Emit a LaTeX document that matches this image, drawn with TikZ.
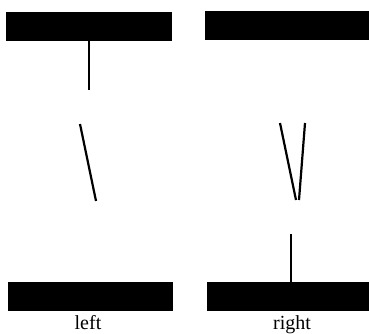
\documentclass[tikz,border=0pt]{standalone}
\usepackage{fontspec}
\setmainfont{Liberation Serif}
\begin{document}
\begin{tikzpicture}[x=1pt,y=-1pt,
  bar/.style={fill=black},
  stick/.style={line width=2.2pt,line cap=butt},
  lbl/.style={font=\fontsize{20}{22}\selectfont,anchor=base,inner sep=0pt}]
\useasboundingbox (0,0) rectangle (369,334);
% top bars
\fill[bar] (6,12) rectangle (172,41);
\fill[bar] (205,11) rectangle (369,40);
% bottom bars
\fill[bar] (8,282) rectangle (173,311);
\fill[bar] (207,282) rectangle (369,311);
% left sticks
\coordinate (la) at (89,41);
\coordinate (lb) at (89,90);
\draw[stick] (la) -- (lb);
\coordinate (lc) at (80,124);
\coordinate (ld) at (96,201);
\draw[stick] (lc) -- (ld);
% right sticks
\coordinate (ra) at (280,123);
\coordinate (rb) at (296,200);
\draw[stick] (ra) -- (rb);
\coordinate (rc) at (305,123);
\coordinate (rd) at (299,200);
\draw[stick] (rc) -- (rd);
\coordinate (re) at (291,234);
\coordinate (rf) at (291,282);
\draw[stick] (re) -- (rf);
% labels
\node[lbl] (left) at (88,329) {left};
\node[lbl] (right) at (292,329) {right};
\end{tikzpicture}
\end{document}
